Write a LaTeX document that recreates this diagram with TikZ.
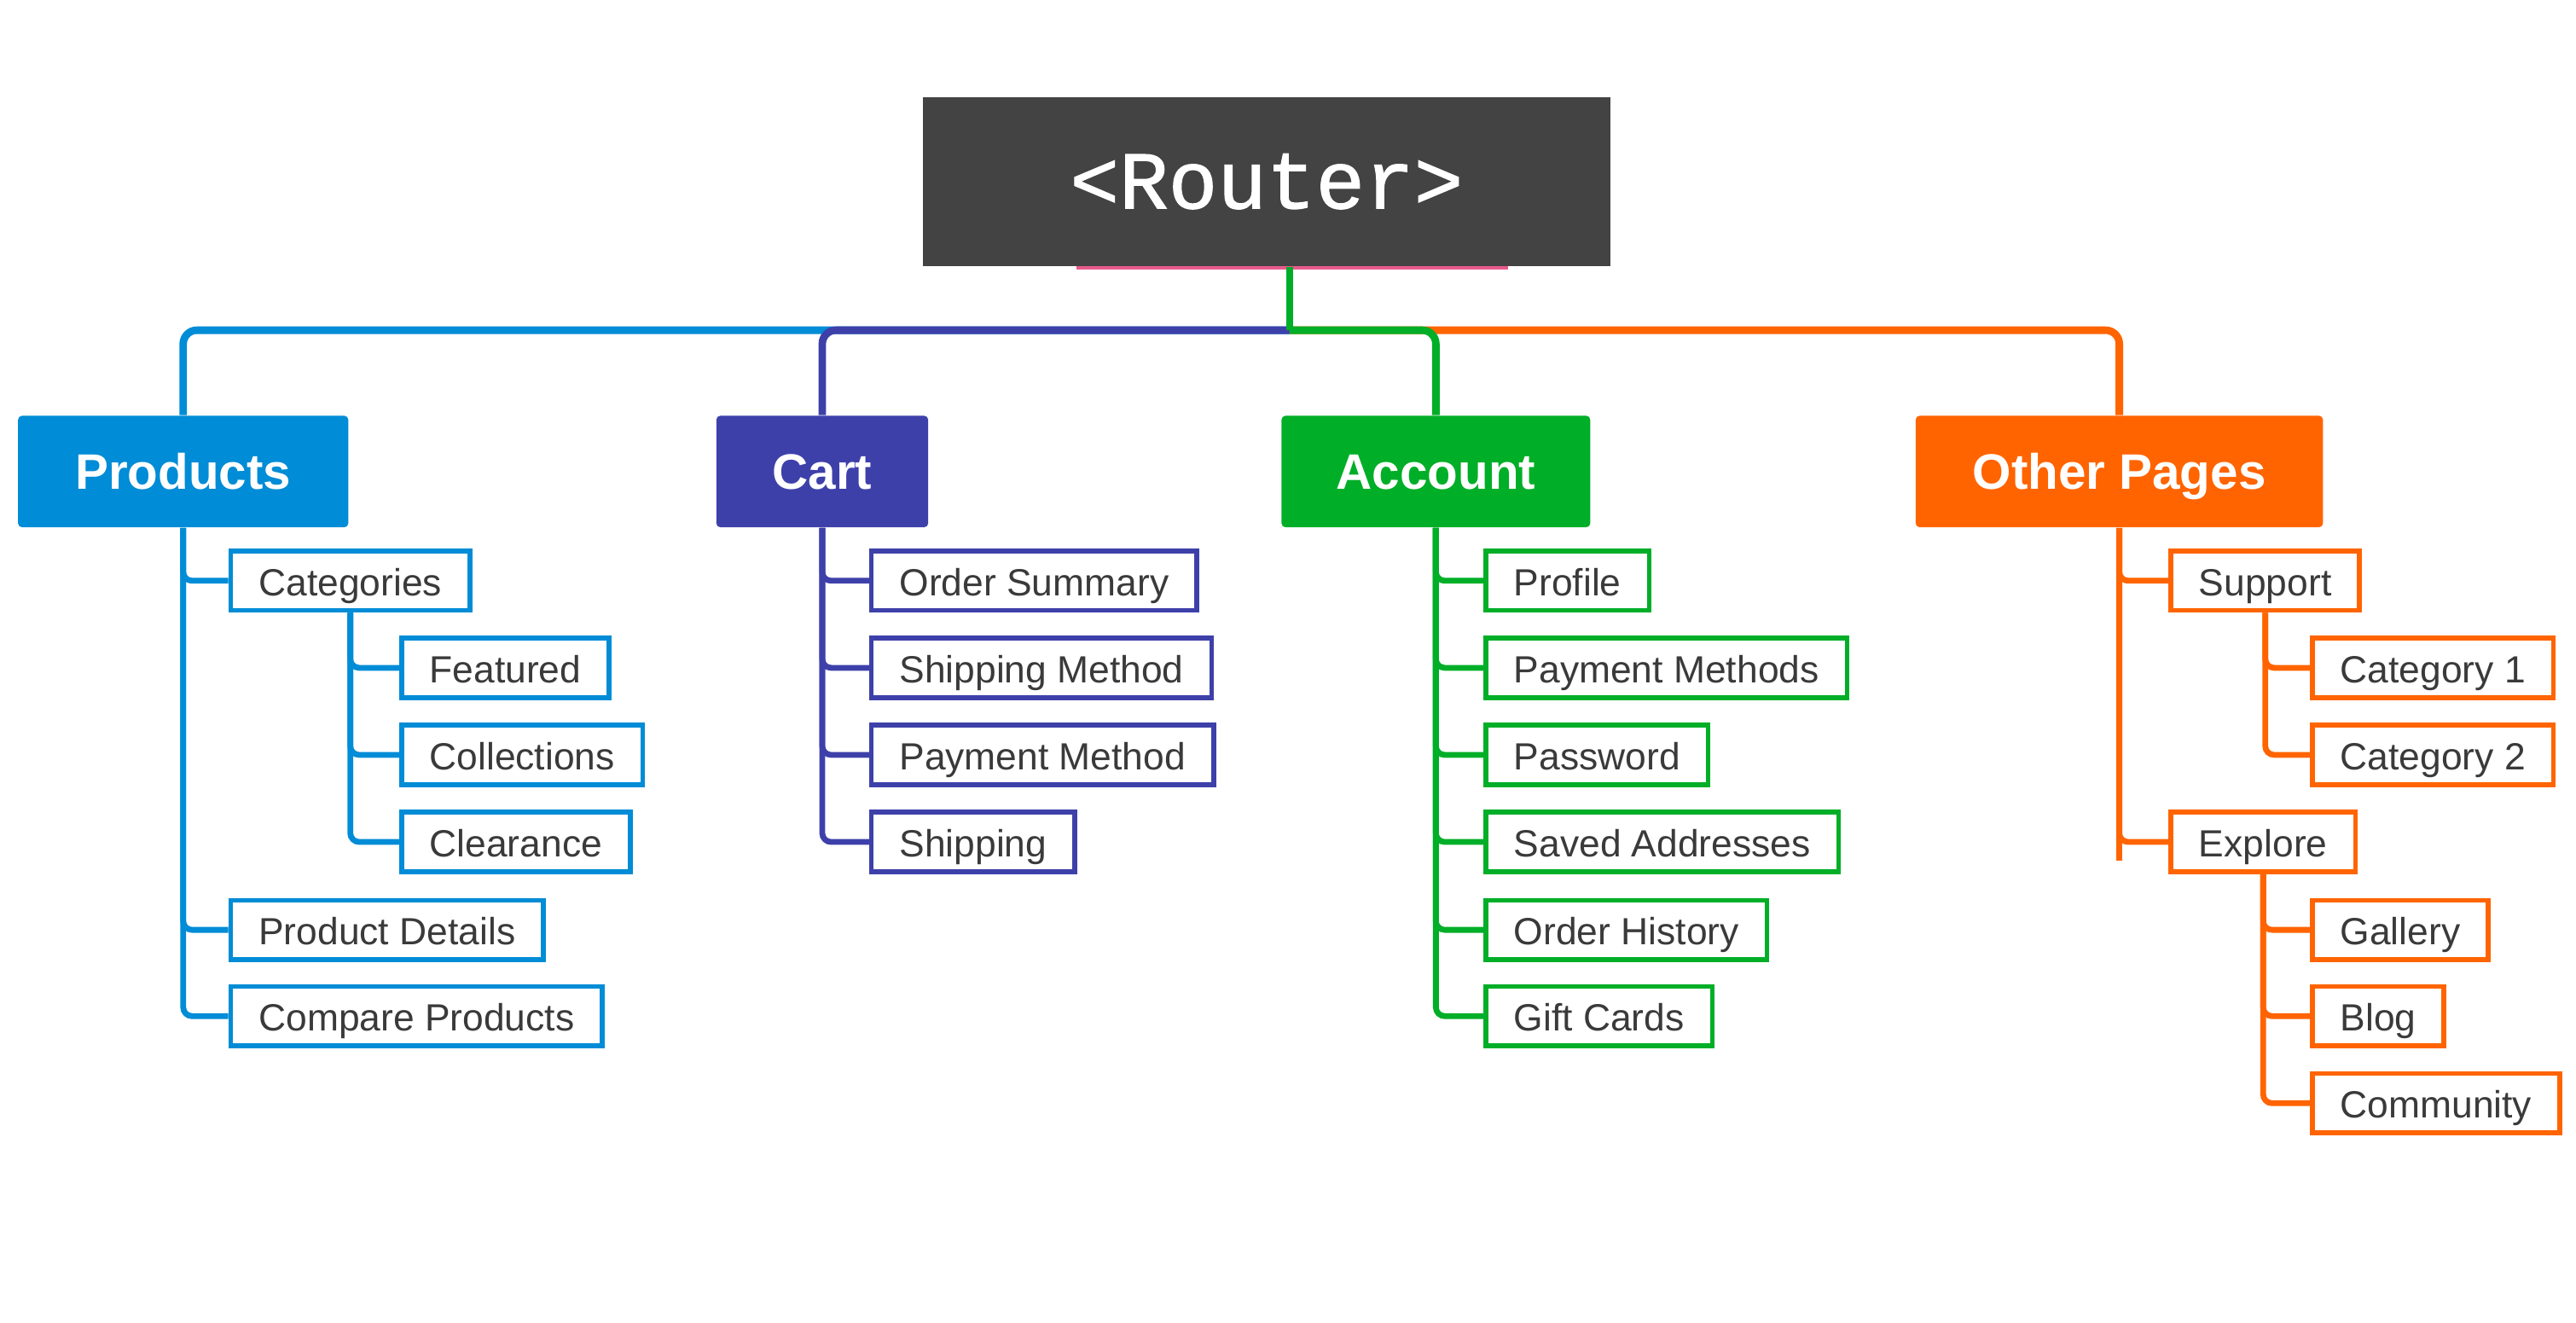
\documentclass[tikz,border=0pt]{standalone}
\usepackage{fontspec}
\setmainfont{Liberation Sans}
\newfontfamily\routerfont[FakeBold=1.3]{Liberation Mono}
\usetikzlibrary{backgrounds}
\definecolor{cblue}{RGB}{0,140,214}
\definecolor{cpurp}{RGB}{62,64,170}
\definecolor{cgreen}{RGB}{0,174,39}
\definecolor{corange}{RGB}{255,100,0}
\definecolor{crouter}{RGB}{67,67,67}
\definecolor{ctext}{RGB}{58,58,58}
\definecolor{cpink}{RGB}{232,90,140}
\begin{document}
\begin{tikzpicture}[x=0.4815pt,y=-0.4815pt,
  mainbox/.style={fill=#1, text=white, font=\fontsize{14.6}{17}\selectfont\bfseries,
    minimum height=32.7pt, rounded corners=1.2pt, inner sep=0pt, text height=10.4pt, text depth=0pt},
  subbox/.style={draw=#1, fill=white, line width=1.4pt, text=ctext,
    font=\fontsize{11.1}{13}\selectfont, anchor=west, inner xsep=8.2pt, inner ysep=0pt,
    minimum height=17.4pt, text height=8.8pt, text depth=0pt},
  topline/.style={draw=#1, line width=2.2pt, rounded corners=4pt},
  subline/.style={draw=#1, line width=1.7pt, rounded corners=2.6pt}
]
\useasboundingbox (0,0) rectangle (1568,805);

% Router
\node[fill=crouter, text=white, minimum width=201.3pt, minimum height=49.6pt, inner sep=0pt,
  font=\routerfont\fontsize{24}{28}\selectfont] (router) at (771,110.5) {<Router>};

% Main boxes
\node[mainbox=cblue, minimum width=96.8pt] (prod) at (111.5,287) {Products};
\node[mainbox=cpurp, minimum width=62.1pt] (cart) at (500.5,287) {Cart};
\node[mainbox=cgreen, minimum width=90.5pt] (acct) at (874,287) {Account};
\node[mainbox=corange, minimum width=119.4pt] (other) at (1290,287) {Other Pages};

% Products
\node[subbox=cblue] (cat) at (139,353.5) {Categories};
\node[subbox=cblue] (feat) at (243,406.5) {Featured};
\node[subbox=cblue] (coll) at (243,459.5) {Collections};
\node[subbox=cblue] (clr) at (243,512.5) {Clearance};
\node[subbox=cblue] (pdet) at (139,566) {Product Details};
\node[subbox=cblue] (cmp) at (139,618.5) {Compare Products};

% Cart
\node[subbox=cpurp] (osum) at (529,353.5) {Order Summary};
\node[subbox=cpurp] (smeth) at (529,406.5) {Shipping Method};
\node[subbox=cpurp] (pmeth) at (529,459.5) {Payment Method};
\node[subbox=cpurp] (ship) at (529,512.5) {Shipping};

% Account
\node[subbox=cgreen] (prof) at (903,353.5) {Profile};
\node[subbox=cgreen] (paym) at (903,406.5) {Payment Methods};
\node[subbox=cgreen] (pass) at (903,459.5) {Password};
\node[subbox=cgreen] (saved) at (903,512.5) {Saved Addresses};
\node[subbox=cgreen] (ohist) at (903,566) {Order History};
\node[subbox=cgreen] (gift) at (903,618.5) {Gift Cards};

% Other Pages
\node[subbox=corange] (supp) at (1320,353.5) {Support};
\node[subbox=corange] (cat1) at (1406,406.5) {Category 1};
\node[subbox=corange] (cat2) at (1406,459.5) {Category 2};
\node[subbox=corange] (expl) at (1320,512.5) {Explore};
\node[subbox=corange] (gal) at (1406,566) {Gallery};
\node[subbox=corange] (blog) at (1406,618.5) {Blog};
\node[subbox=corange] (comm) at (1406,671.5) {Community};

\coordinate (hub) at (785,201);
\coordinate (otail) at (1290,524);
\coordinate (pinkL) at (655,163);
\coordinate (pinkR) at (918,163);

\begin{pgfonlayer}{background}
  \draw[cpink, line width=1pt] (pinkL) -- (pinkR);
  % top connectors
  \draw[topline=cblue] (hub) -| (prod.north);
  \draw[topline=cpurp] (hub) -| (cart.north);
  \draw[topline=corange] (hub) -| (other.north);
  \draw[cgreen, line width=1.8pt] (router.south -| hub) -- (hub);
  \draw[topline=cgreen] (hub) -| (acct.north);
  % products
  \foreach \c in {cat,pdet,cmp} \draw[subline=cblue] (prod.south) |- (\c.west);
  \foreach \c in {feat,coll,clr} \draw[subline=cblue] (cat.south) |- (\c.west);
  % cart
  \foreach \c in {osum,smeth,pmeth,ship} \draw[subline=cpurp] (cart.south) |- (\c.west);
  % account
  \foreach \c in {prof,paym,pass,saved,ohist,gift} \draw[subline=cgreen] (acct.south) |- (\c.west);
  % other
  \foreach \c in {supp,expl} \draw[subline=corange] (other.south) |- (\c.west);
  \draw[subline=corange] (other.south) -- (other.south |- otail);
  \foreach \c in {cat1,cat2} \draw[subline=corange] (supp.south) |- (\c.west);
  \foreach \c in {gal,blog,comm} \draw[subline=corange] (expl.south) |- (\c.west);
\end{pgfonlayer}
\end{tikzpicture}
\end{document}
